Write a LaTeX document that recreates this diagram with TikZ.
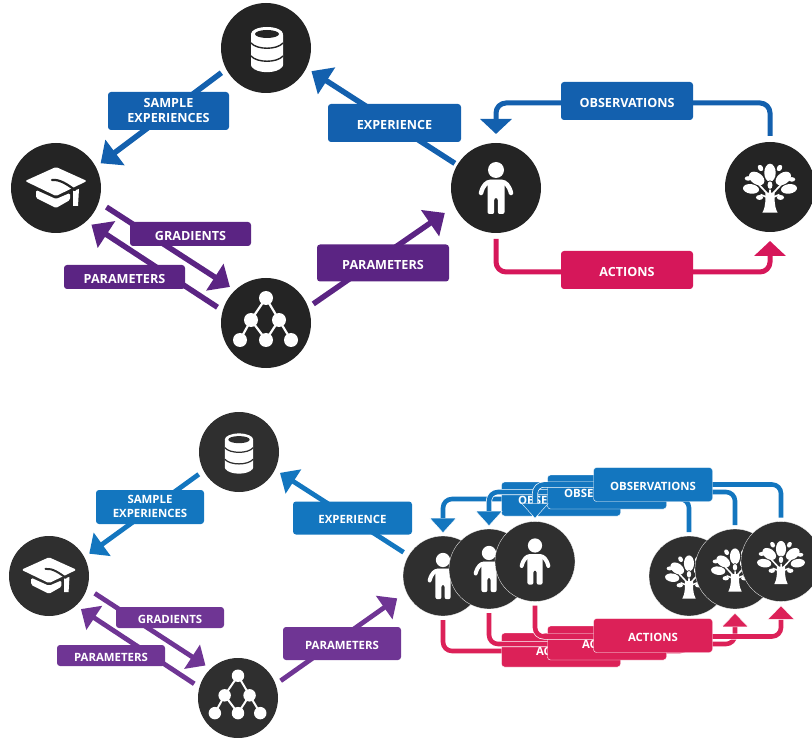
\documentclass[tikz,border=0pt]{standalone}
\usepackage{fontspec}
\setmainfont{Open Sans}
\usetikzlibrary{arrows.meta}
\definecolor{tblue}{HTML}{1360AE}
\definecolor{tpurple}{HTML}{5B2483}
\definecolor{tred}{HTML}{D6175A}
\definecolor{bblue}{HTML}{1376BF}
\definecolor{bpurple}{HTML}{6F3594}
\definecolor{bred}{HTML}{DC2158}
\definecolor{tdark}{HTML}{242424}
\definecolor{bdark}{HTML}{2F2F2F}
\newcommand{\iconperson}[3]{\begin{scope}[shift={(#1,#2)},scale=#3,white]
 \fill (0,-18) circle (8);
 \draw[line width=#3*4.5pt,line cap=round] (-15,5) .. controls (-13,-3) and (-9,-6) .. (-6,-6) -- (6,-6) .. controls (9,-6) and (13,-3) .. (15,5);
 \fill[rounded corners=2] (-8.5,-8) -- (8.5,-8) -- (8.5,26) -- (1.8,26) -- (1.8,10) -- (-1.8,10) -- (-1.8,26) -- (-8.5,26) -- cycle;
\end{scope}}
\newcommand{\icontree}[4]{\begin{scope}[shift={(#1,#2)},scale=#3,white]
 \fill (-8,27) .. controls (-4,20) and (-5,12) .. (-5,6) -- (5,6) .. controls (5,12) and (4,20) .. (8,27) -- cycle;
 \draw[line width=#3*1.8pt] (0,10) -- (-13,-4) (0,10) -- (13,-4) (0,12) -- (-10,8) (0,12) -- (10,8) (0,10) -- (0,-6);
 \fill (0,-15) ellipse (6 and 9.5);
 \fill[rotate around={-35:(-14,-9)}] (-14,-9) ellipse (9 and 6);
 \fill[rotate around={35:(14,-9)}] (14,-9) ellipse (9 and 6);
 \fill[rotate around={-8:(-20,2)}] (-20,2) ellipse (8.5 and 5);
 \fill[rotate around={8:(20,2)}] (20,2) ellipse (8.5 and 5);
 \fill[rotate around={30:(-10,-20)}] (-10,-20) ellipse (2.6 and 3.6);
 \fill[rotate around={-30:(10,-20)}] (10,-20) ellipse (2.6 and 3.6);
 \fill (-23,-9) ellipse (3.6 and 2.4);
 \fill (23,-8) ellipse (3.6 and 2.4);
 \fill (-11,11) ellipse (3.8 and 2.6);
 \fill (11,11) ellipse (3.8 and 2.6);
 \fill[#4] (0,-2) ellipse (3.6 and 5);
 \fill (0,-2) ellipse (2.6 and 4);
\end{scope}}
\newcommand{\icondb}[4]{\begin{scope}[shift={(#1,#2)},scale=#3]
 \fill[white,rounded corners=1] (-16,-15) -- (16,-15) -- (16,17) .. controls (10,25) and (-10,25) .. (-16,17) -- cycle;
 \fill[white] (0,-15) ellipse (16 and 7);
 \fill[#4] (0,-15) ellipse (12 and 4);
 \draw[#4,line width=#3*1.4pt] (-16,-6) .. controls (-10,1) and (10,1) .. (16,-6);
 \draw[#4,line width=#3*1.4pt] (-16,7) .. controls (-10,14) and (10,14) .. (16,7);
\end{scope}}
\newcommand{\iconcap}[4]{\begin{scope}[shift={(#1,#2)},scale=#3]
 \fill[white,rounded corners=1.5] (-31,-7) -- (0,-21) -- (31,-7) -- (0,8) -- cycle;
 \fill[white,rounded corners=1.5] (-20,2) -- (0,11) -- (14,5) -- (14,12) -- (0,20) -- (-20,10) -- cycle;
 \fill[white] (17,3) -- (23,1) -- (22,18) -- (17,18) -- cycle;
 \draw[#4,line width=#3*2.2pt,line cap=round] (-4,-8) .. controls (4,-9) and (12,-3) .. (19,2);
\end{scope}}
\newcommand{\iconnet}[4]{\begin{scope}[shift={(#1,#2)},scale=#3,white]
 \draw[line width=#3*2.2pt] (0,-25) -- (-15,-3) -- (-26,17) (-15,-3) -- (0,17) -- (13,-3) -- (0,-25) (13,-3) -- (25,17);
 \foreach \p in {(0,-25),(-15,-3),(13,-3),(-26,17),(0,17),(25,17)} \fill \p circle (7);
\end{scope}}
\tikzset{
 every node/.style={font=\bfseries},
 hub/.style={circle,minimum size=#1,inner sep=0pt,outer sep=6pt},
 tag/.style={rounded corners=3pt,inner sep=0pt,align=center,text=white,font=\bfseries\fontsize{12.6}{15}\selectfont},
 stag/.style={tag,font=\bfseries\fontsize{11.4}{14}\selectfont},
 tipT/.style={-{Triangle[length=18pt,width=31pt]}},
 tipC/.style={-{Triangle[length=15pt,width=31pt]}},
 tipB/.style={-{Triangle[length=16pt,width=28pt]}},
 lineT/.style={line width=5.5pt,tipT},
 lineB/.style={line width=4.8pt,tipB},
 cycT/.style={line width=5pt,rounded corners=10pt},
 halo/.style={preaction={draw=white,line width=6pt,-}},
}
\newcommand{\lw}[1]{\raisebox{-1.6pt}[\height][0pt]{#1}}
\newcommand{\lwtwo}[2]{\raisebox{-1pt}[\height][\depth]{\begin{tabular}{@{}c@{}}#1\\#2\end{tabular}}}
\begin{document}
\begin{tikzpicture}[x=1pt,y=-1pt]
\useasboundingbox (0,0) rectangle (812,738);
% ---------- top diagram ----------
\node[hub=90pt,fill=tdark] (db) at (266,48) {};
\node[hub=90pt,fill=tdark] (cap) at (56,188) {};
\node[hub=90pt,fill=tdark] (net) at (266,323) {};
\node[hub=90pt,fill=tdark] (person) at (496,188) {};
\node[hub=90pt,fill=tdark] (tree) at (770,187) {};
\icondb{267}{49}{1}{tdark}
\iconcap{56}{188}{1}{tdark}
\iconnet{266}{323}{1}{tdark}
\iconperson{496}{188}{1}
\icontree{770}{187}{.95}{tdark}
\coordinate (obsc) at (627,103);
\coordinate (actc) at (627,272);
\draw[lineT,tblue] (db.209) -- (cap.29);
\draw[lineT,tblue,shorten <=-3pt] (person.149) -- (db.-27);
\draw[lineT,tpurple,shorten <=3pt] (cap.-20) -- (net.135);
\draw[lineT,tpurple] (net.162) -- (cap.-46);
\draw[lineT,tpurple,shorten >=6pt] (net.22) -- (person.205);
\draw[cycT,tblue,tipC] (tree.north) |- (obsc) -| ([yshift=3pt]person.north);
\draw[cycT,tred,tipC] (person.south) |- (actc) -| ([yshift=-3pt]tree.south);
\node[tag,fill=tblue,minimum width=121pt,minimum height=38pt] (t1) at (168.5,111) {\lwtwo{SAMPLE}{EXPERIENCES}};
\node[tag,fill=tblue,minimum width=133pt,minimum height=38pt] (t2) at (394.5,123) {\lw{EXPERIENCE}};
\node[tag,fill=tpurple,minimum width=121pt,minimum height=24pt] (t3) at (190.5,234) {\lw{GRADIENTS}};
\node[tag,fill=tpurple,minimum width=121pt,minimum height=24pt] (t4) at (124.5,277) {\lw{PARAMETERS}};
\node[tag,fill=tpurple,minimum width=132pt,minimum height=37pt] (t5) at (383,263) {\lw{PARAMETERS}};
\node[tag,fill=tblue,minimum width=132pt,minimum height=38pt] (t6) at (627,101) {\lw{OBSERVATIONS}};
\node[tag,fill=tred,minimum width=132pt,minimum height=38pt] (t7) at (627,270) {\lw{ACTIONS}};
% ---------- bottom diagram, left ----------
\node[hub=80pt,fill=bdark] (db2) at (239,452) {};
\node[hub=80pt,fill=bdark] (cap2) at (49,576) {};
\node[hub=80pt,fill=bdark] (net2) at (238,698) {};
\icondb{239}{453}{.89}{bdark}
\iconcap{49}{576}{.89}{bdark}
\iconnet{238}{698}{.89}{bdark}
\coordinate (pL) at (443,576);
\node[hub=80pt] (p0) at (pL) {};
\draw[lineB,bblue] (db2.209) -- (cap2.29);
\draw[lineB,bblue] (p0.149) -- (db2.-27);
\draw[lineB,bpurple,shorten <=3pt] (cap2.-20) -- (net2.135);
\draw[lineB,bpurple] (net2.162) -- (cap2.-46);
\draw[lineB,bpurple,shorten >=5pt] (net2.22) -- (p0.205);
\node[stag,fill=bblue,minimum width=108pt,minimum height=34pt] (b1) at (150,507) {\lwtwo{SAMPLE}{EXPERIENCES}};
\node[stag,fill=bblue,minimum width=119pt,minimum height=33pt] (b2) at (352.5,518) {\lw{EXPERIENCE}};
\node[stag,fill=bpurple,minimum width=108pt,minimum height=21pt] (b3) at (170,617.5) {\lw{GRADIENTS}};
\node[stag,fill=bpurple,minimum width=108pt,minimum height=21pt] (b4) at (111,655.5) {\lw{PARAMETERS}};
\node[stag,fill=bpurple,minimum width=118pt,minimum height=33pt] (b5) at (342,643.5) {\lw{PARAMETERS}};
% ---------- stacked cycles ----------
\foreach \n/\dx/\dy in {a/0/0,b/46/-7,c/92/-14.5}{
 \coordinate (oc\n) at (561+\dx,499+\dy);
 \coordinate (ac\n) at (561+\dx,650+\dy);
 \node[hub=80pt] (pp\n) at (443+\dx,576+\dy) {};
 \node[hub=80pt] (tt\n) at (689+\dx,576+\dy) {};
 \coordinate (ps\n) at (443+\dx,620+\dy);
 \coordinate (pn\n) at (443+\dx,533+\dy);
 \coordinate (ts\n) at (689+\dx,620+\dy);
 \coordinate (tn\n) at (689+\dx,532+\dy);
 \draw[bblue,line width=4.6pt,rounded corners=9pt,halo,-{Triangle[length=15pt,width=27pt,fill=bblue,color=white,line width=.4pt]}] (tn\n) |- (oc\n) -| (pn\n);
 \draw[bred,line width=4.6pt,rounded corners=9pt,halo,-{Triangle[length=14pt,width=27pt,fill=bred,color=white,line width=.4pt]}] (ps\n) |- ([yshift=-1pt]ac\n) -| (ts\n);
 \node[hub=80pt,fill=bdark,draw=white,line width=.3pt] (pc\n) at (pp\n) {};
 \node[hub=80pt,fill=bdark,draw=white,line width=.3pt] (tc\n) at (tt\n) {};
 \iconperson{443+\dx}{576+\dy}{.89}
 \icontree{689+\dx}{576+\dy}{.84}{bdark}
 \node[stag,fill=bblue,draw=white,line width=.4pt,minimum width=119pt,minimum height=34pt] (ol\n) at (oc\n) {\lw{OBSERVATIONS}};
 \node[stag,fill=bred,draw=white,line width=.4pt,minimum width=119pt,minimum height=34pt] (al\n) at (ac\n) {\lw{ACTIONS}};
}
\end{tikzpicture}
\end{document}
